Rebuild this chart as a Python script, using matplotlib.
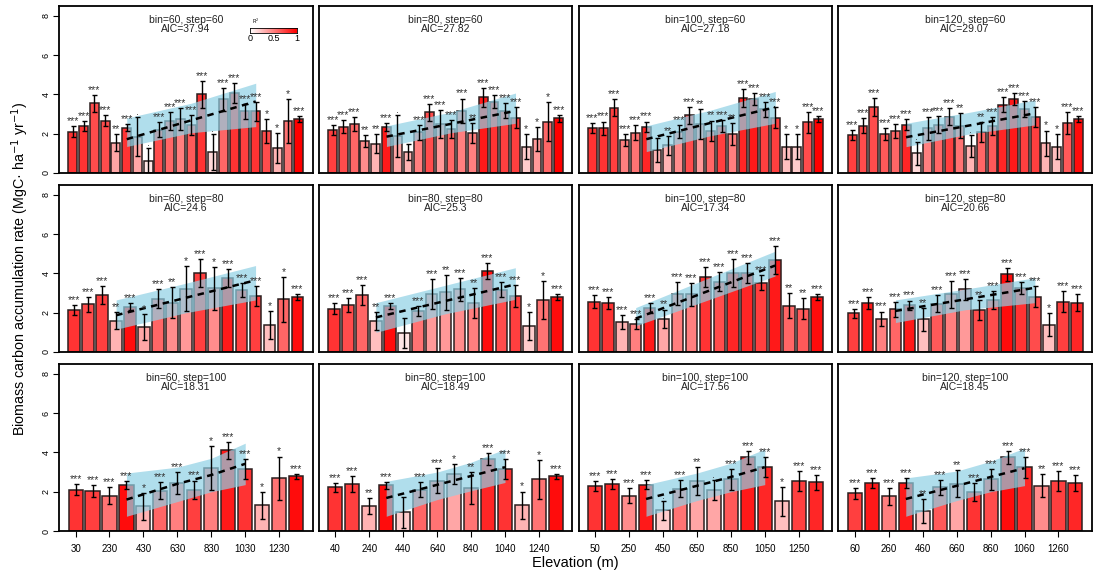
import numpy as np
import matplotlib.pyplot as plt
from matplotlib.colors import LinearSegmentedColormap

plt.rcParams['font.family'] = ['Liberation Sans', 'DejaVu Sans']

bins = [60, 80, 100, 120]
steps = [60, 80, 100]
aic_labels = [["37.94", "27.82", "27.18", "29.07"],
              ["24.6", "25.3", "17.34", "20.66"],
              ["18.31", "18.49", "17.56", "18.45"]]

# ---- step = 60 ----
rate_60_60 = [2.10, 2.40, 3.55, 2.67, 1.55, 2.30, 1.85, 0.60, 2.20, 2.65, 2.75, 2.45, 4.00, 1.07, 3.75, 4.07, 3.13, 3.13, 2.14, 1.26, 2.65, 2.75]
se_60_60 = [0.27, 0.25, 0.43, 0.30, 0.45, 0.17, 1.00, 0.65, 0.37, 0.45, 0.55, 0.50, 0.67, 0.90, 0.57, 0.52, 0.38, 0.50, 0.62, 0.77, 1.13, 0.17]
r2_60_60 = [0.8, 0.8, 0.7, 0.7, 0.35, 0.8, 0.35, 0.1, 0.7, 0.6, 0.5, 0.65, 0.8, 0.15, 0.6, 0.8, 0.75, 0.8, 0.7, 0.3, 0.55, 1.0]
sig_60_60 = ["***", "***", "***", "***", "**", "***", ".", ".", "***", "***", "***", "***", "***", ".", "***", "***", "***", "***", "*", "*", "*", "***"]
band_60_60 = [[330, 1.35, 1.72, 2.80], [690, 2.05, 2.68, 3.55], [1050, 2.36, 3.64, 4.57]]

rate_80_60 = [2.18, 2.35, 2.50, 1.62, 1.50, 2.32, 1.88, 1.05, 2.07, 3.08, 2.48, 2.23, 3.16, 2.03, 3.85, 3.63, 3.16, 2.82, 1.34, 1.72, 2.62, 2.79]
se_80_60 = [0.25, 0.34, 0.37, 0.30, 0.50, 0.20, 1.05, 0.40, 0.38, 0.45, 0.72, 0.47, 0.63, 0.50, 0.48, 0.34, 0.38, 0.53, 0.65, 0.62, 0.97, 0.17]
r2_80_60 = [0.75, 0.7, 0.6, 0.45, 0.3, 0.9, 0.35, 0.3, 0.5, 0.7, 0.4, 0.6, 0.5, 0.5, 0.9, 0.8, 0.75, 0.75, 0.2, 0.4, 0.6, 1.0]
sig_80_60 = ["***", "***", "***", "**", "**", "***", ".", "", "***", "***", "***", "***", "***", "**", "***", "***", "***", "***", "*", "*", "*", "***"]
band_80_60 = [[340, 1.35, 1.85, 2.40], [700, 2.05, 2.50, 3.10], [1060, 2.53, 3.16, 4.07]]

rate_100_60 = [2.28, 2.28, 3.33, 1.68, 2.06, 2.36, 1.17, 1.40, 2.10, 2.93, 2.48, 2.14, 2.40, 1.97, 3.80, 3.77, 3.25, 2.82, 1.34, 1.34, 2.57, 2.75]
se_100_60 = [0.26, 0.34, 0.45, 0.32, 0.38, 0.26, 0.62, 0.50, 0.34, 0.43, 0.77, 0.53, 0.31, 0.57, 0.46, 0.30, 0.38, 0.54, 0.65, 0.62, 0.51, 0.17]
r2_100_60 = [0.8, 0.8, 0.75, 0.5, 0.55, 0.85, 0.3, 0.3, 0.45, 0.7, 0.4, 0.6, 0.75, 0.5, 0.85, 0.9, 0.75, 0.75, 0.25, 0.2, 0.7, 1.0]
sig_100_60 = ["***", "***", "***", "***", "***", "***", ".", "**", "***", "***", "**", "**", "***", "**", "***", "***", "***", "***", "*", "*", "***", "***"]
band_100_60 = [[350, 1.09, 1.72, 2.40], [710, 1.90, 2.55, 3.20], [1070, 2.53, 3.35, 4.15]]

rate_120_60 = [1.94, 2.40, 3.35, 1.97, 2.14, 2.45, 1.00, 2.28, 2.45, 2.87, 2.40, 1.38, 2.10, 2.40, 3.47, 3.76, 3.27, 2.84, 1.51, 1.34, 2.53, 2.75]
se_120_60 = [0.24, 0.38, 0.45, 0.30, 0.35, 0.28, 0.57, 0.58, 0.43, 0.45, 0.64, 0.55, 0.50, 0.45, 0.38, 0.30, 0.40, 0.50, 0.65, 0.62, 0.55, 0.17]
r2_120_60 = [0.75, 0.7, 0.7, 0.65, 0.6, 0.85, 0.15, 0.5, 0.6, 0.75, 0.55, 0.3, 0.6, 0.65, 0.85, 0.9, 0.75, 0.75, 0.3, 0.25, 0.65, 0.95]
sig_120_60 = ["***", "***", "***", "***", "***", "***", ".", "***", "***", "***", "**", ".", "**", "***", "***", "***", "***", "***", "*", "*", "***", "***"]
band_120_60 = [[360, 1.34, 1.82, 2.53], [720, 2.00, 2.43, 3.10], [1080, 2.45, 3.04, 3.72]]

# ---- step = 80 ----
rate_60_80 = [2.14, 2.43, 2.90, 1.59, 2.30, 1.25, 2.72, 2.51, 3.22, 4.03, 3.24, 3.76, 3.16, 2.85, 1.38, 2.68, 2.80]
se_60_80 = [0.25, 0.37, 0.48, 0.44, 0.17, 0.66, 0.50, 0.80, 1.15, 0.70, 1.10, 0.46, 0.36, 0.50, 0.72, 1.14, 0.17]
r2_60_80 = [0.8, 0.7, 0.75, 0.3, 0.95, 0.35, 0.6, 0.45, 0.4, 0.75, 0.45, 0.9, 0.75, 0.75, 0.25, 0.6, 0.95]
sig_60_80 = ["***", "***", "***", "**", "***", "*", "***", "**", "*", "***", "*", "***", "***", "***", "*", "*", "***"]
band_60_80 = [[270, 1.16, 1.87, 2.65], [670, 2.00, 2.76, 3.50], [1070, 2.65, 3.65, 4.40]]

rate_80_80 = [2.21, 2.38, 2.90, 1.59, 2.35, 0.96, 2.09, 2.94, 3.05, 3.19, 2.51, 4.12, 3.16, 2.85, 1.33, 2.65, 2.80]
se_80_80 = [0.28, 0.36, 0.50, 0.45, 0.15, 0.78, 0.25, 0.76, 0.89, 0.59, 0.76, 0.42, 0.38, 0.54, 0.71, 0.97, 0.17]
r2_80_80 = [0.8, 0.7, 0.6, 0.25, 0.95, 0.1, 0.55, 0.4, 0.4, 0.45, 0.5, 0.95, 0.7, 0.75, 0.2, 0.55, 0.95]
sig_80_80 = ["***", "***", "***", "**", "***", "", "***", "***", "**", "***", "**", "***", "***", "***", "*", "*", "***"]
band_80_80 = [[280, 1.00, 1.76, 2.51], [680, 1.95, 2.60, 3.40], [1080, 2.68, 3.44, 4.29]]

rate_100_80 = [2.57, 2.48, 1.54, 1.42, 2.26, 1.70, 2.97, 2.94, 3.83, 3.58, 4.03, 4.03, 3.53, 4.68, 2.35, 2.21, 2.80]
se_100_80 = [0.31, 0.31, 0.36, 0.25, 0.25, 0.46, 0.59, 0.59, 0.51, 0.50, 0.71, 0.51, 0.39, 0.72, 0.64, 0.55, 0.17]
r2_100_80 = [0.8, 0.8, 0.3, 0.5, 0.9, 0.35, 0.5, 0.5, 0.8, 0.7, 0.85, 0.85, 0.75, 0.9, 0.6, 0.65, 0.95]
sig_100_80 = ["***", "***", "***", "***", "***", "**", "***", "***", "***", "***", "***", "***", "***", "***", "**", "**", "***"]
band_100_80 = [[290, 1.33, 1.70, 2.26], [690, 2.60, 3.05, 3.70], [1090, 3.87, 4.40, 5.13]]

rate_120_80 = [1.96, 2.51, 1.70, 2.18, 2.38, 1.67, 2.46, 2.94, 3.19, 2.14, 2.65, 3.95, 3.27, 2.82, 1.38, 2.57, 2.51]
se_120_80 = [0.24, 0.30, 0.36, 0.38, 0.24, 0.59, 0.42, 0.68, 0.54, 0.51, 0.46, 0.32, 0.30, 0.55, 0.59, 0.53, 0.42]
r2_120_80 = [0.75, 0.9, 0.5, 0.6, 0.9, 0.25, 0.65, 0.5, 0.4, 0.7, 0.7, 0.95, 0.8, 0.7, 0.25, 0.75, 0.85]
sig_120_80 = ["***", "***", "***", "***", "***", "**", "***", "***", "***", "**", "***", "***", "***", "***", "*", "***", "***"]
band_120_80 = [[300, 1.50, 2.09, 2.65], [700, 2.15, 2.68, 3.20], [1100, 2.51, 3.27, 3.78]]

# ---- step = 100 ----
rate_60_100 = [2.10, 2.02, 1.80, 2.32, 1.25, 2.05, 2.44, 2.10, 3.20, 4.10, 3.17, 1.30, 2.69, 2.78]
se_60_100 = [0.27, 0.30, 0.44, 0.20, 0.70, 0.42, 0.54, 0.47, 1.13, 0.45, 0.51, 0.68, 1.10, 0.14]
r2_60_100 = [0.8, 0.75, 0.55, 0.95, 0.3, 0.6, 0.5, 0.75, 0.5, 0.9, 0.8, 0.3, 0.55, 0.95]
sig_60_100 = ["***", "***", "***", "***", "*", "***", "***", "***", "*", "***", "***", "*", "*", "***"]
band_60_100 = [[330, 0.75, 1.60, 2.95], [630, 1.50, 2.40, 3.25], [830, 2.00, 2.85, 3.70], [1030, 2.36, 3.42, 4.47]]

rate_80_100 = [2.22, 2.39, 1.29, 2.32, 0.95, 2.10, 2.56, 2.90, 2.19, 3.68, 3.17, 1.31, 2.64, 2.78]
se_80_100 = [0.24, 0.40, 0.40, 0.18, 0.79, 0.39, 0.65, 0.53, 0.80, 0.30, 0.51, 0.70, 0.99, 0.14]
r2_80_100 = [0.8, 0.75, 0.3, 0.95, 0.2, 0.6, 0.55, 0.35, 0.55, 0.85, 0.8, 0.3, 0.55, 0.95]
sig_80_100 = ["***", "***", "**", "***", "", "***", "***", "*", "**", "***", "***", "*", "*", "***"]
band_80_100 = [[340, 0.75, 1.68, 2.53], [640, 1.60, 2.35, 3.00], [840, 2.05, 2.80, 3.50], [1040, 2.47, 3.25, 4.17]]

rate_100_100 = [2.27, 2.39, 1.80, 2.36, 1.05, 2.15, 2.53, 2.07, 2.64, 3.76, 3.24, 1.51, 2.56, 2.47]
se_100_100 = [0.25, 0.25, 0.38, 0.24, 0.48, 0.44, 0.72, 0.51, 0.53, 0.33, 0.51, 0.73, 0.51, 0.40]
r2_100_100 = [0.8, 0.85, 0.45, 0.9, 0.2, 0.55, 0.35, 0.35, 0.65, 0.9, 0.85, 0.25, 0.75, 0.85]
sig_100_100 = ["***", "***", "***", "***", ".", "***", "**", ".", "***", "***", "***", "*", "***", "***"]
band_100_100 = [[350, 0.75, 1.63, 2.36], [650, 1.55, 2.30, 2.95], [850, 2.00, 2.75, 3.45], [1050, 2.36, 3.25, 4.17]]

rate_120_100 = [1.93, 2.44, 1.76, 2.44, 1.03, 2.22, 2.41, 1.98, 2.64, 3.76, 3.24, 2.31, 2.56, 2.44]
se_120_100 = [0.28, 0.27, 0.42, 0.24, 0.61, 0.38, 0.67, 0.45, 0.53, 0.33, 0.53, 0.57, 0.51, 0.41]
r2_120_100 = [0.75, 0.9, 0.5, 0.9, 0.25, 0.65, 0.35, 0.8, 0.7, 0.95, 0.85, 0.45, 0.75, 0.85]
sig_120_100 = ["***", "***", "***", "***", "**", "***", "**", "***", "***", "***", "***", "**", "***", "***"]
band_120_100 = [[360, 0.75, 1.63, 2.70], [660, 1.55, 2.30, 3.05], [860, 2.00, 2.75, 3.55], [1060, 2.31, 3.20, 4.22]]

panels = {}
for s in steps:
    for b in bins:
        key = f"{b}_{s}"
        g = globals()
        panels[(b, s)] = (g["rate_" + key], g["se_" + key], g["r2_" + key],
                          g["sig_" + key], g["band_" + key])

white_red = LinearSegmentedColormap.from_list("white_red", ["white", "red"])
band_col = "#8fd0e4"

fig = plt.figure(figsize=(10.95, 5.76), dpi=100)
gs = fig.add_gridspec(3, 4, left=59/1095, right=1092/1095, top=1-6/576,
                      bottom=1-531/576, wspace=0.024, hspace=0.072)

for r, s in enumerate(steps):
    for c, b in enumerate(bins):
        ax = fig.add_subplot(gs[r, c])
        rate, se, r2, sig, band = panels[(b, s)]
        n = len(rate)
        xpos = 0.7 + 1.2*np.arange(n)
        elev = b/2 + s*np.arange(n)
        rate = np.array(rate); se = np.array(se)

        ax.bar(xpos, rate, width=1.0, color=white_red(np.array(r2)),
               edgecolor="#2b1f1f", linewidth=1.1, zorder=2)

        band = np.array(band)
        bx = np.interp(band[:, 0], elev, xpos)
        ax.fill_between(bx, band[:, 1], band[:, 3], color=band_col,
                        alpha=0.7, linewidth=0, zorder=3)
        ax.errorbar(xpos, rate, yerr=se, fmt="none", ecolor="black",
                    elinewidth=1.0, capsize=1.8, capthick=1.0, zorder=4)
        ax.plot(bx, band[:, 2], color="black", lw=1.8,
                linestyle=(0, (2.6, 2.2)), zorder=5)

        for xi, top, lab in zip(xpos, rate + se, sig):
            if lab:
                ax.text(xi, top + 0.0, lab, ha="center", va="bottom",
                        fontsize=7.6, color="#333333", zorder=6)

        # two-line panel heading: window settings and model AIC
        ax.text(0.5, 0.945, f"bin={b}, step={s}\nAIC={aic_labels[r][c]}",
                transform=ax.transAxes, ha="center", va="top",
                multialignment="center", linespacing=0.85,
                fontsize=7.5, color="#222222")

        pad = 0.04*(1.2*n)
        ax.set_xlim(0.2 - pad, 1.2*n + pad)
        ax.set_ylim(0, 8.5)
        for sp in ax.spines.values():
            sp.set_linewidth(1.3)

        if c == 0:
            ax.set_yticks([0, 2, 4, 6, 8])
            ax.tick_params(axis="y", length=4, width=0.8, labelsize=6.5, pad=2)
            for t in ax.get_yticklabels():
                t.set_rotation(90)
                t.set_va("center")
        else:
            ax.set_yticks([])

        if r == len(steps) - 1:
            ax.set_xticks(xpos[::2])
            ax.set_xticklabels([f"{e:.0f}" for e in elev[::2]])
            ax.tick_params(axis="x", length=4, width=0.8, labelsize=7, pad=5)
        else:
            ax.set_xticks([])

        if r == 0 and c == 0:
            cax = ax.inset_axes([0.754, 0.838, 0.184, 0.032])
            cax.imshow(np.linspace(0, 1, 100)[None, :], cmap=white_red,
                       aspect="auto", extent=[0, 1, 0, 1])
            cax.set_xticks([0, 0.5, 1])
            cax.set_xticklabels(["0", "0.5", "1"])
            cax.set_yticks([])
            cax.tick_params(axis="x", length=0, labelsize=6.5, pad=1)
            for sp in cax.spines.values():
                sp.set_linewidth(0.6)
            cax.text(0.03, 1.4, "R$^2$", transform=cax.transAxes,
                     fontsize=3.5, ha="left", va="bottom")

fig.text(20/1095, 0.534, "Biomass carbon accumulation rate (MgC· ha$^{-1}$ yr$^{-1}$)",
         rotation=90, ha="center", va="center", fontsize=10.3)
fig.text(575/1095, 1-563/576, "Elevation (m)", ha="center", va="center", fontsize=10.5)

fig.savefig("out.png", dpi=100)
